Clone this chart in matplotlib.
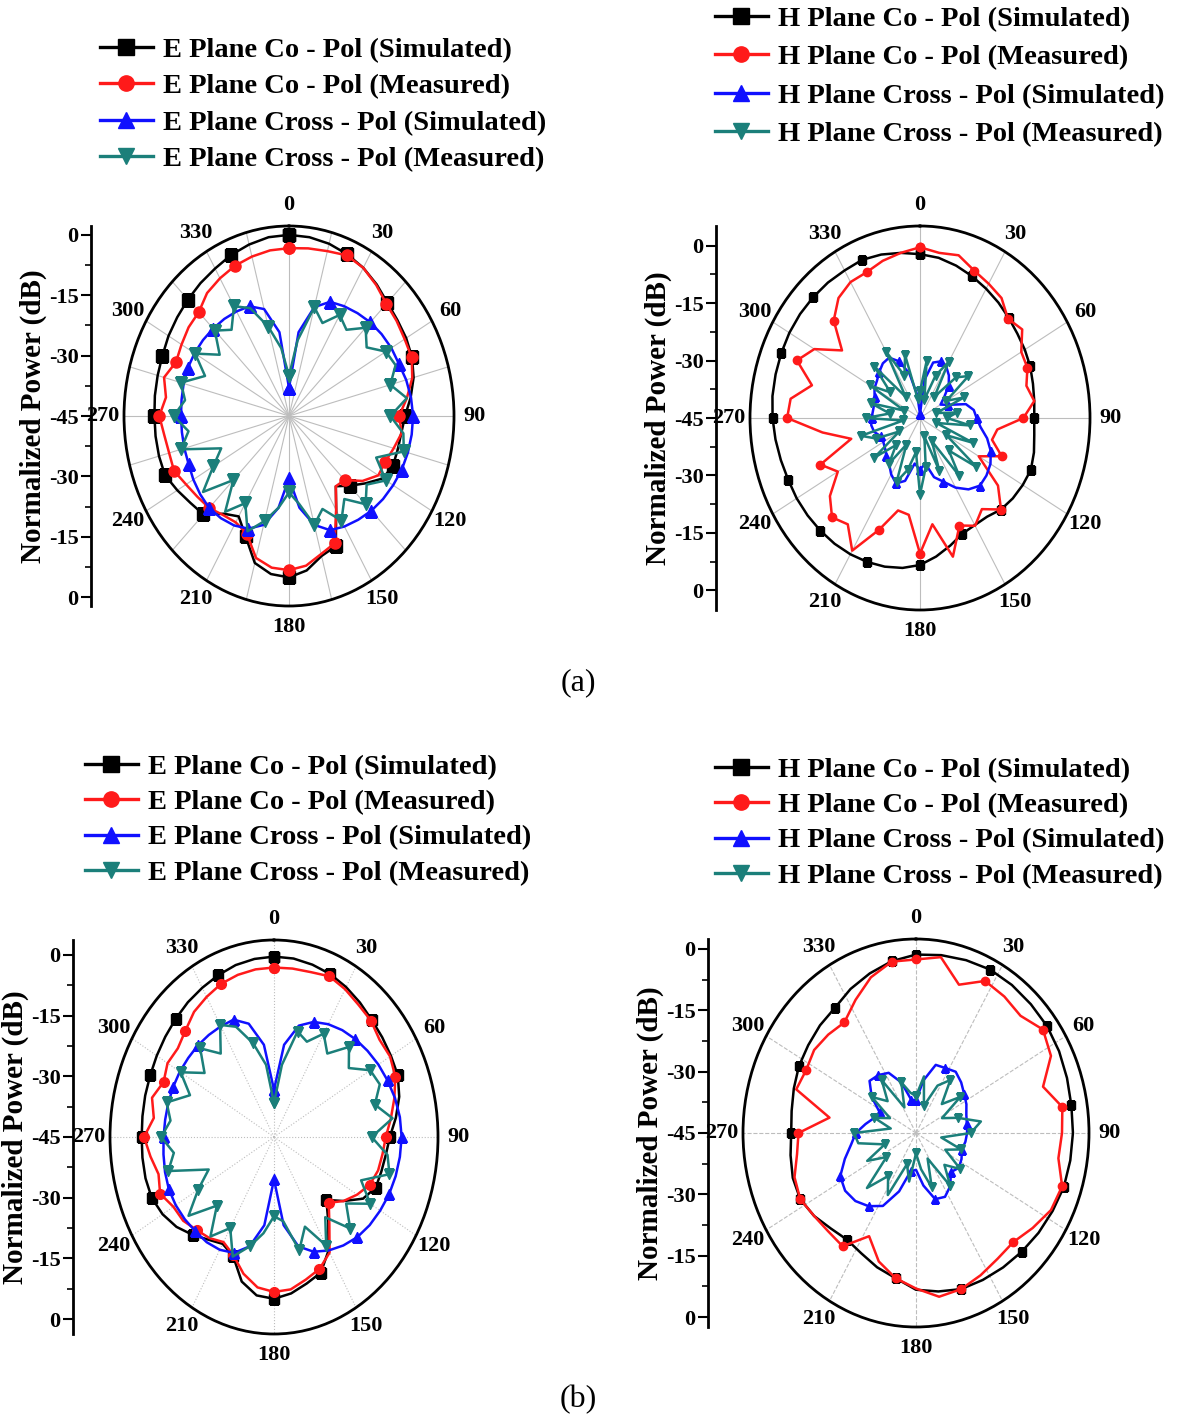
import numpy as np
import matplotlib
matplotlib.use('Agg')
import matplotlib.pyplot as plt
from matplotlib.lines import Line2D

plt.rcParams['font.family'] = ['Liberation Serif', 'DejaVu Serif']
plt.rcParams['font.weight'] = 'bold'

W, H = 1186, 1426

# sample angles (deg)
ang_a = np.arange(0, 360, 7.5)     # panels (a) and (b)-left
ang_b = np.arange(0, 360, 9.0)     # panel (b)-right

# ---- (a) E plane ----
e_co_sim_a = [0.0, -0.2, -0.7, -1.5, -2.5, -3.8, -5.2, -5.9,
              -6.3, -6.9, -8.1, -9.9, -11.8, -12.6, -12.8, -12.8,
              -14.0, -17.5, -20.5, -23.0, -18.0, -10.0, -9.0, -6.3,
              -4.9, -5.4, -7.2, -12.6, -16.2, -14.4, -10.4, -9.5,
              -8.1, -6.6, -6.5, -6.5, -6.5, -6.3, -6.1, -5.8,
              -5.2, -4.7, -4.1, -3.4, -2.7, -1.7, -0.9, -0.2]
e_co_meas_a = [-3.3, -3.0, -2.6, -1.8, -2.5, -4.0, -5.6, -6.2,
               -6.8, -7.0, -8.5, -11.0, -13.5, -12.5, -14.0, -15.2,
               -15.5, -18.5, -22.5, -23.0, -18.0, -10.8, -9.5, -7.5,
               -6.7, -7.0, -8.5, -13.4, -14.5, -14.0, -12.7, -12.0,
               -11.0, -9.4, -9.5, -9.0, -7.9, -9.5, -8.0, -10.0,
               -9.5, -8.8, -8.5, -6.5, -5.5, -4.6, -4.0, -3.5]
e_x_sim_a = [-38.0, -24.0, -17.0, -14.3, -13.5, -12.8, -12.1, -11.6,
             -11.2, -11.0, -10.3, -9.8, -9.5, -9.6, -9.8, -10.1,
             -10.6, -11.1, -11.7, -12.5, -13.3, -14.3, -17.0, -22.0,
             -29.5, -22.0, -17.0, -14.7, -13.6, -13.0, -12.7, -13.0,
             -13.4, -13.9, -14.0, -14.1, -14.1, -14.0, -13.8, -13.7,
             -13.8, -14.0, -14.3, -14.6, -15.0, -15.5, -17.5, -24.0]
e_x_meas_a = [-35, -26, -17, -20, -16, -18, -14, -17,
              -13, -12, -15, -11, -16, -12, -11, -18,
              -13, -17, -14, -19, -15, -20, -17, -23,
              -26, -22, -18, -14, -20, -15, -22.5, -14,
              -20, -24, -13, -16, -12, -15, -13, -19,
              -14, -20, -15, -18, -13.5, -16, -22, -28]

# ---- (a) H plane ----
h_co_sim_a = [-2.2, -2.8, -3.8, -4.9, -6.0, -7.0, -8.0, -8.8,
              -9.3, -9.8, -10.5, -11.0, -11.3, -11.0, -10.2, -9.6,
              -10.0, -10.5, -11.2, -12.5, -12.7, -12.3, -10.5, -8.5,
              -6.6, -5.5, -4.8, -4.3, -3.9, -3.6, -3.4, -3.2,
              -3.0, -2.9, -2.5, -2.0, -1.5, -1.1, -0.9, -0.7,
              -0.5, -0.4, -0.4, -0.4, -0.5, -0.3, -0.8, -1.5]
h_co_meas_a = [-0.4, -1.5, -1.0, -3.3, -4.5, -5.5, -8.3, -7.0,
               -10.5, -10.7, -12.5, -11.0, -14.5, -22.0, -23.0, -18.9,
               -25.0, -16.0, -11.2, -15.0, -12.5, -14.6, -7.5, -17.0,
               -9.6, -19.5, -20.0, -13.4, -5.0, -10.0, -8.3, -11.5,
               -17.0, -13.2, -24.0, -16.0, -5.8, -6.5, -12.0, -5.7,
               -9.0, -16.0, -9.0, -5.5, -4.0, -3.8, -2.5, -1.5]
h_x_sim_a = [-44, -35, -30, -29, -29.5, -31, -33, -36,
             -38, -36, -31, -29, -28.3, -27, -24.5, -22.4,
             -21, -20.3, -20, -21.5, -24, -27, -29, -33,
             -31.5, -33, -28, -26.5, -28, -30, -31, -32,
             -32.5, -32.5, -31, -30.5, -30.7, -31, -31, -30.5,
             -29.5, -29, -28, -27, -26.8, -29, -33, -39]
h_x_meas_a = [-38, -30, -40, -33, -28, -38, -30, -27,
              -36, -31, -40, -34, -37, -30, -40, -28,
              -36, -24, -33, -26, -38, -30, -40, -32,
              -25, -36, -31, -27, -37, -30, -35, -28,
              -38, -31, -27, -40, -29, -36, -30, -40,
              -28, -34, -26, -38, -25, -33, -28, -40]

# ---- (b) E plane ----
e_co_sim_b = [-0.4, -0.5, -0.9, -1.4, -2.2, -3.1, -4.0, -4.5,
              -4.9, -5.2, -6.5, -8.5, -10.6, -11.5, -12.0, -12.3,
              -14.5, -19.0, -23.0, -18.5, -12.6, -8.7, -7.5, -6.0,
              -5.0, -5.5, -8.0, -13.2, -14.5, -13.0, -10.8, -8.5,
              -6.8, -5.7, -5.5, -5.6, -5.7, -5.6, -5.4, -5.2,
              -4.8, -4.3, -3.7, -3.0, -2.4, -1.7, -1.0, -0.6]
e_co_meas_b = [-3.1, -3.0, -2.8, -2.0, -2.8, -3.8, -4.3, -5.5,
               -5.2, -6.0, -8.0, -10.0, -11.8, -12.5, -13.0, -14.2,
               -16.5, -19.0, -22.0, -18.0, -12.0, -9.7, -8.5, -7.0,
               -6.7, -7.5, -10.0, -13.4, -15.0, -13.5, -12.5, -11.0,
               -10.5, -8.4, -9.5, -8.0, -6.4, -9.0, -7.5, -9.5,
               -8.5, -9.0, -7.8, -6.0, -5.0, -4.0, -3.5, -3.2]
e_x_sim_b = [-33.3, -22, -16.5, -14.2, -12.8, -11.7, -10.8, -10.0,
             -9.2, -8.5, -7.8, -7.3, -7.1, -7.3, -7.6, -8.0,
             -8.6, -9.2, -10.0, -11.2, -12.6, -14.3, -17, -23,
             -34.5, -23, -17, -14.0, -12.8, -12.2, -12.0, -11.6,
             -11.3, -11.2, -11.5, -11.9, -12.2, -12.4, -12.5, -12.6,
             -12.7, -12.9, -13.0, -13.2, -13.4, -13.6, -16, -22]
e_x_meas_b = [-36.6, -27, -18, -19.5, -15.5, -19, -13.5, -17,
              -12, -11, -14, -9.5, -16, -11, -9.5, -17,
              -12, -18, -13, -20, -14, -21, -16, -24,
              -25.4, -21, -17, -13, -19, -14, -21, -13,
              -19, -24, -12.5, -15, -11.5, -14, -12, -18,
              -13, -19, -14, -19, -13, -15.5, -21, -27]

# ---- (b) H plane ----
h_co_sim_b = [-1.4, -1.0, -0.6, -0.2, -0.3, -0.5, -0.6, -1.0,
              -1.5, -1.9, -2.0, -2.2, -2.4, -3.0, -3.5, -4.0,
              -4.4, -4.7, -4.9, -5.8, -6.7, -9.1, -10.5, -12.0,
              -12.8, -12.0, -10.5, -9.4, -9.5, -10.2, -10.8, -10.5,
              -9.8, -9.0, -8.5, -7.8, -7.2, -5.5, -4.0, -2.5]
h_co_meas_b = [-2.6, -1.5, -6.9, -3.3, -3.8, -4.5, -2.0, -3.5,
               -8.4, -4.4, -5.0, -5.5, -2.9, -3.5, -5.5, -7.3,
               -7.0, -6.0, -4.9, -4.5, -7.0, -9.1, -12.0, -16.7,
               -10.8, -11.0, -10.5, -9.4, -10.0, -12.0, -12.8, -21.0,
               -10.5, -11.2, -10.5, -11.0, -11.6, -8.5, -5.0, -2.6]
h_x_sim_b = [-37, -32, -27.5, -27.2, -26.5, -27.5, -28.7, -29.5,
             -30.5, -30.9, -31.0, -31.3, -31.8, -31.0, -30.5, -31.5,
             -29.0, -27.5, -28.0, -32, -36, -35.5, -30, -25,
             -22.9, -21.5, -21.0, -21.7, -24.5, -27, -28.5, -31,
             -33, -33.8, -30, -27, -27.5, -28.5, -32, -36.8]
h_x_meas_b = [-36, -31, -38, -32, -29, -35, -30, -37,
              -33, -27, -30, -38, -32, -36, -30, -34,
              -29, -38, -31, -36, -40, -33, -37, -28,
              -32, -26, -35, -30, -36, -29, -28, -38,
              -33, -37, -30, -34, -29, -38, -32, -35]

theta_labels = ['0', '30', '60', '90', '120', '150', '180',
                '210', '240', '270', '300', '330']
side_ticks = [-45, -30, -15, 0, 15, 30, 45]
side_labels = ['0', '-15', '-30', '-45', '-30', '-15', '0']

e_names = ['E Plane Co - Pol (Simulated)', 'E Plane Co - Pol (Measured)',
           'E Plane Cross - Pol (Simulated)', 'E Plane Cross - Pol (Measured)']
h_names = ['H Plane Co - Pol (Simulated)', 'H Plane Co - Pol (Measured)',
           'H Plane Cross - Pol (Simulated)', 'H Plane Cross - Pol (Measured)']

colors = ['black', '#ff1a1a', '#1010ff', '#1b7f7a']
markers = ['s', 'o', '^', 'v']

fig = plt.figure(figsize=(W / 100, H / 100), dpi=100)
fig.patch.set_facecolor('white')


def fbox(l, t, w, h):
    return [l / W, 1 - (t + h) / H, w / W, h / H]


def panel(box, r_out, spine_x, ang, series, names, grid_ls, spoke15,
          leg_xy, leg_sp, ms, every, teal_every):
    l, t, w, h = box
    ax = fig.add_axes(fbox(l, t, w, h), projection='polar')
    ax.set_aspect('auto')
    ax.set_theta_zero_location('N')
    ax.set_theta_direction(-1)
    th = np.radians(np.append(ang, 360))
    for k, vals in enumerate(series):
        r = np.append(vals, vals[0])
        me = teal_every if k == 3 else every
        ax.plot(th, r, color=colors[k], lw=1.8, marker=markers[k],
                ms=ms, markevery=me, zorder=3 + k)
    ax.set_ylim(-45, r_out)
    ax.set_yticks([])
    ax.set_xticks(np.radians(np.arange(0, 360, 30)))
    ax.set_xticklabels(theta_labels, fontsize=16, fontweight='bold')
    ax.set_xticks(np.radians(np.arange(15, 360, 30)), minor=True)
    ax.tick_params(axis='x', which='both', direction='in', pad=8,
                   width=1.2)
    ax.tick_params(axis='x', which='major', length=6)
    ax.tick_params(axis='x', which='minor', length=4)
    ax.xaxis.grid(True, which='major', color='#bdbdbd', lw=0.8, ls=grid_ls)
    if spoke15:
        ax.xaxis.grid(True, which='minor', color='#bdbdbd', lw=0.8, ls=grid_ls)
    ax.spines['polar'].set_linewidth(2)

    handles = [Line2D([], [], color=colors[k], marker=markers[k], lw=2.4, ms=11)
               for k in range(4)]
    ax.legend(handles, names, loc='upper left',
              bbox_to_anchor=(leg_xy[0] / W, 1 - leg_xy[1] / H),
              bbox_transform=fig.transFigure, frameon=False,
              prop={'size': 20.5, 'weight': 'bold'}, handlelength=1.85,
              handletextpad=0.35, labelspacing=leg_sp, borderpad=0,
              borderaxespad=0)

    sa = fig.add_axes(fbox(spine_x, t, 1, h))
    sa.set_ylim(-(45 + r_out), 45 + r_out)
    for s in ['top', 'right', 'bottom']:
        sa.spines[s].set_visible(False)
    sa.spines['left'].set_linewidth(2)
    sa.patch.set_visible(False)
    sa.set_xticks([])
    sa.set_yticks(side_ticks)
    sa.set_yticklabels(side_labels, fontsize=16, fontweight='bold')
    sa.set_yticks([-37.5, -22.5, -7.5, 7.5, 22.5, 37.5], minor=True)
    sa.tick_params(axis='y', which='major', direction='out', length=7, width=1.5, pad=2)
    sa.tick_params(axis='y', which='minor', direction='out', length=4, width=1.2)
    sa.set_ylabel('Normalized Power (dB)', fontsize=21, fontweight='bold', labelpad=1)
    return ax


panel((124, 226, 330, 380), 2.2, 91, ang_a,
      [e_co_sim_a, e_co_meas_a, e_x_sim_a, e_x_meas_a], e_names, '-', True,
      (100, 37), 0.37, 8, 3, 2)
panel((750, 226, 340, 384), 5.15, 716, ang_a,
      [h_co_sim_a, h_co_meas_a, h_x_sim_a, h_x_meas_a], h_names, '-', False,
      (715, 6), 0.44, 6, 3, 1)
panel((110, 940, 328, 394), 3.7, 73, ang_a,
      [e_co_sim_b, e_co_meas_b, e_x_sim_b, e_x_meas_b], e_names, ':', False,
      (85, 754), 0.33, 7, 3, 2)
panel((743, 939, 346, 388), 2.4, 708, ang_b,
      [h_co_sim_b, h_co_meas_b, h_x_sim_b, h_x_meas_b], h_names, '--', False,
      (715, 757), 0.33, 6, 3, 2)

fig.text(578 / W, 1 - 683 / H, '(a)', fontsize=23, fontweight='normal',
         ha='center', va='center')
fig.text(578 / W, 1 - 1400 / H, '(b)', fontsize=23, fontweight='normal',
         ha='center', va='center')

fig.savefig('out.png', dpi=100, facecolor='white')
